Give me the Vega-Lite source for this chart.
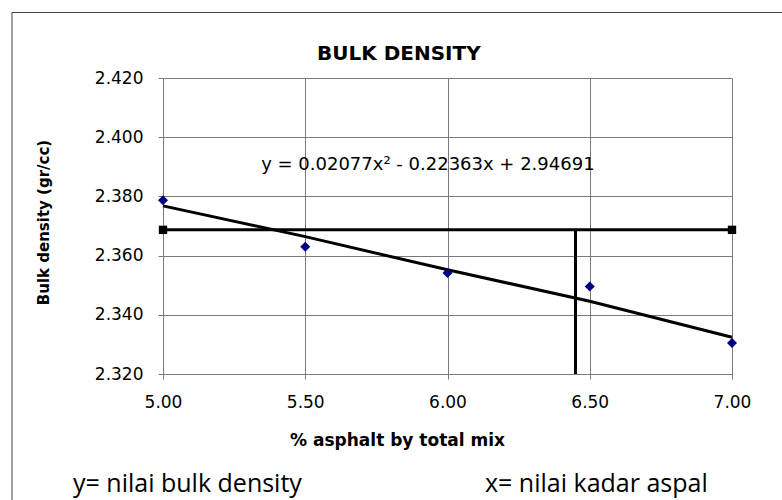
{
  "$schema": "https://vega.github.io/schema/vega-lite/v6.json",
  "autosize": {"type": "none"},
  "width": 569,
  "height": 296,
  "padding": {"left": 163, "top": 78, "right": 50, "bottom": 126},
  "background": "white",
  "title": {
    "text": "BULK DENSITY",
    "font": "DejaVu Sans",
    "fontSize": 20,
    "fontWeight": "bold",
    "color": "black",
    "anchor": "start",
    "frame": "group",
    "dx": 154,
    "baseline": "alphabetic",
    "offset": -68
  },
  "config": {
    "view": {"stroke": null},
    "axis": {
      "labelFont": "DejaVu Sans",
      "labelFontSize": 17,
      "labelColor": "black",
      "titleFont": "DejaVu Sans",
      "titleFontSize": 17,
      "titleFontWeight": "bold",
      "titleColor": "black",
      "gridColor": "#7a7a7a",
      "gridWidth": 1,
      "gridOpacity": 1,
      "domainColor": "#7a7a7a",
      "tickColor": "#7a7a7a",
      "tickSize": 5,
      "labelPadding": 15
    }
  },
  "encoding": {
    "x": {
      "field": "x",
      "type": "quantitative",
      "scale": {"domain": [5, 7], "nice": false, "zero": false},
      "axis": {
        "title": "% asphalt by total mix",
        "values": [5, 5.5, 6, 6.5, 7],
        "format": ".2f",
        "titleX": 234,
        "titleY": 71,
        "titleAlign": "center",
        "titleBaseline": "alphabetic",
        "labelFlush": false
      }
    },
    "y": {
      "field": "y",
      "type": "quantitative",
      "scale": {"domain": [2.32, 2.42], "nice": false, "zero": false},
      "axis": {
        "title": "Bulk density (gr/cc)",
        "titleFontSize": 15,
        "values": [2.32, 2.34, 2.36, 2.38, 2.4, 2.42],
        "format": ".3f",
        "titleX": -120,
        "titleY": 144,
        "titleAngle": -90,
        "titleAlign": "center",
        "titleBaseline": "middle",
        "labelFlush": false
      }
    }
  },
  "layer": [
    {
      "data": {"values": [{"x": 4.4692, "x2": 7.3, "y": 2.44213, "y2": 2.26}]},
      "mark": {"type": "rect", "clip": false, "fillOpacity": 0, "stroke": "#404040", "strokeWidth": 1},
      "encoding": {"x2": {"field": "x2"}, "y2": {"field": "y2"}}
    },
    {
      "data": {"values": [
        {"x": 5.0, "y": 2.3768},
        {"x": 5.5, "y": 2.3664},
        {"x": 6.0, "y": 2.3552},
        {"x": 6.5, "y": 2.3446},
        {"x": 7.0, "y": 2.3324}
      ]},
      "mark": {"type": "line", "color": "black", "strokeWidth": 3},
      "encoding": {}
    },
    {
      "data": {"values": [{"x": 5.0, "y": 2.3687}, {"x": 7.0, "y": 2.3687}]},
      "mark": {"type": "line", "color": "black", "strokeWidth": 3, "point": {"shape": "square", "size": 70, "filled": true, "color": "black", "opacity": 1}},
      "encoding": {}
    },
    {
      "data": {"values": [{"x": 6.45, "y": 2.3687, "y2": 2.32}]},
      "mark": {"type": "rule", "color": "black", "strokeWidth": 3},
      "encoding": {"y2": {"field": "y2"}}
    },
    {
      "data": {"values": [
        {"x": 5.0, "y": 2.3787},
        {"x": 5.5, "y": 2.363},
        {"x": 6.0, "y": 2.3541},
        {"x": 6.5, "y": 2.3496},
        {"x": 7.0, "y": 2.3305}
      ]},
      "mark": {"type": "point", "shape": "diamond", "filled": true, "color": "#000080", "size": 100, "opacity": 1},
      "encoding": {}
    },
    {
      "data": {"values": [{"x": 5.931, "y": 2.3906, "label": "y = 0.02077x² - 0.22363x + 2.94691"}]},
      "mark": {"type": "text", "font": "DejaVu Sans", "fontSize": 18, "color": "black", "align": "center", "baseline": "middle"},
      "encoding": {"text": {"field": "label"}}
    },
    {
      "data": {"values": [
        {"x": 4.6837, "y": 2.2828, "label": "y= nilai bulk density"},
        {"x": 6.1318, "y": 2.2828, "label": "x= nilai kadar aspal"}
      ]},
      "mark": {"type": "text", "font": "Open Sans", "fontSize": 25, "color": "black", "align": "left", "baseline": "middle", "clip": false},
      "encoding": {"text": {"field": "label"}}
    }
  ]
}
